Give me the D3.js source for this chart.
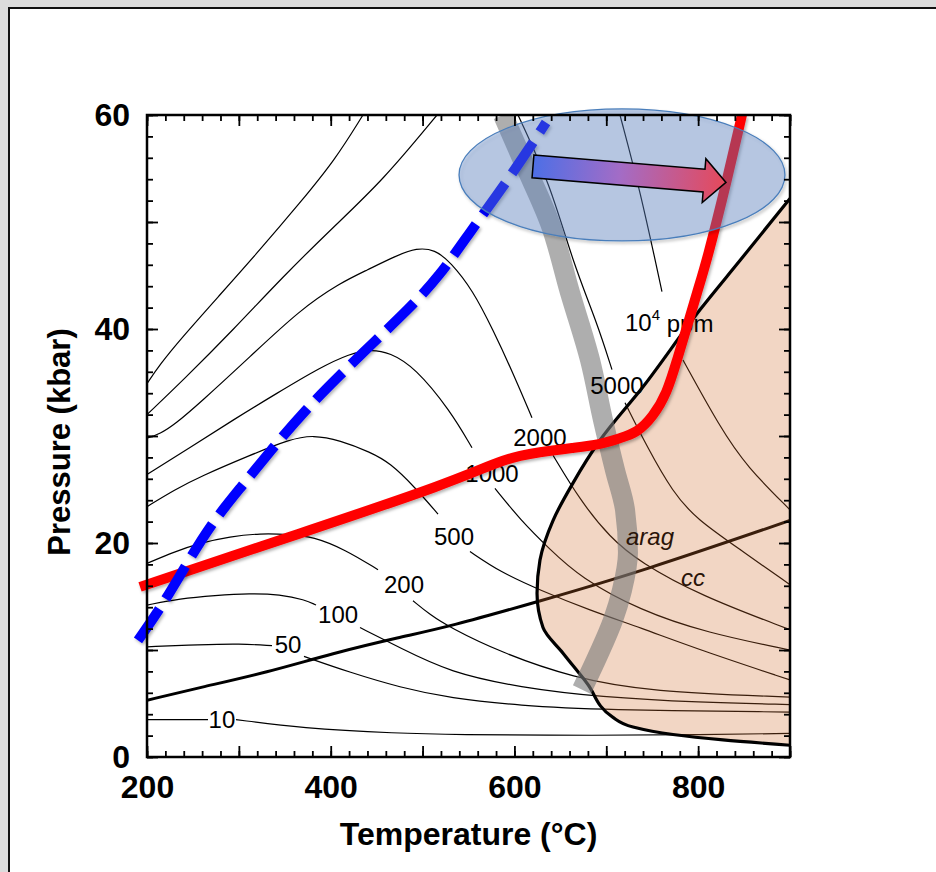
<!DOCTYPE html>
<html><head><meta charset="utf-8">
<script src="https://cdn.jsdelivr.net/npm/d3@7"></script>
<style>
html,body{margin:0;padding:0;background:#dcdcdc;}
svg{display:block;font-family:"Liberation Sans",Arial,sans-serif;}
</style></head><body>
<svg id="chart" width="936" height="872"></svg>
<script>
// ---- Axis definitions ----
const tempDomain = [200, 900];
const presDomain = [0, 60];
const tempTickLabels = [200, 400, 600, 800];
const presTickLabels = [0, 20, 40, 60];

// ---- Isopleths (T in °C, P in kbar); each is a list of drawn segments ----
const iso1e4 = [
  [[200,34.9],[214.2,36.7],[235.9,39.0],[279.5,43.2],[323.0,47.4],[366.6,51.8],[404.7,55.8],[435.1,60]],
  [[714.9,60],[736.7,53.0],[760.6,43.5]],
  [[783.5,37.1],[823.8,30.8],[853.2,27.1],[900,23.1]]
];
const iso5000 = [
  [[200,32.0],[239.2,35.2],[293.6,39.9],[348.1,44.9],[402.5,49.5],[456.9,53.9],[515.7,60]],
  [[603.9,60],[638.7,53.6],[663.7,46.2],[689.9,40.6],[706.2,36.2]],
  [[720.4,33.1],[744.3,29.0],[772.6,24.7],[798.7,22.2],[845.5,19.4],[900,16.1]]
];
const iso2000 = [
  [[200,29.8],[214.2,30.2],[230.5,31.1],[257.7,33.1],[312.1,37.4],[366.6,41.8],[410.1,44.3],[439.5,45.5],[470.0,46.8],[493.9,47.6],[513.5,47.4],[529.9,46.3],[554.9,43.6],[576.7,39.9],[598.4,35.9],[619.1,31.7]],
  [[642.0,28.2],[671.4,24.0],[704.0,20.5],[736.7,18.2],[802.0,15.1],[900,11.9]]
];
const iso1000 = [
  [[200,26.4],[246.8,28.9],[293.6,31.5],[341.5,34.0],[388.3,36.4],[421.0,37.7],[442.8,38.1],[464.5,37.8],[491.8,36.4],[529.9,32.4],[553.8,28.9]],
  [[578.8,25.1],[606.1,22.2],[638.7,19.4],[671.4,16.8],[736.7,13.7],[809.6,11.6],[900,10.0]]
];
const iso500 = [
  [[200,23.4],[230.5,25.0],[257.7,26.2],[312.1,28.2],[355.7,29.7],[380.7,30.1],[410.1,29.6],[442.8,28.5],[464.5,27.5],[491.8,25.2],[516.8,22.7]],
  [[551.6,19.2],[584.3,17.3],[627.8,15.6],[682.3,13.7],[736.7,12.1],[802.0,10.0],[900,7.2]]
];
const iso200 = [
  [[200,18.1],[230.5,19.2],[257.7,20.0],[290.4,20.6],[323.0,20.9],[355.7,20.8],[380.7,20.6],[415.6,19.4],[451.5,17.5]],
  [[489.6,14.6],[508.1,13.3],[529.9,12.1],[584.3,9.8],[663.7,7.4],[747.6,6.1],[900,5.6]]
];
const iso100 = [
  [[200,14.2],[235.9,14.8],[274.0,15.1],[312.1,15.3],[344.8,15.2],[372.0,14.7],[384.0,14.2]],
  [[431.9,12.1],[475.4,10.2],[529.9,7.9],[606.1,6.5],[693.1,5.6],[802.0,5.1],[900,4.9]]
];
const iso50 = [
  [[200,10.3],[257.7,10.5],[301.2,10.6],[336.1,10.4]],
  [[370.9,9.4],[421.0,7.9],[475.4,6.5],[529.9,5.5],[606.1,4.8],[693.1,4.4],[900,4.2]]
];
const iso10 = [
  [[200,3.5],[266.4,3.5]],
  [[296.9,3.5],[366.6,2.7],[475.4,2.2],[529.9,2.1],[693.1,2.0],[802.0,2.1],[900,2.2]]
];
const isopleths = [iso1e4, iso5000, iso2000, iso1000, iso500, iso200, iso100, iso50, iso10];

// Isopleth labels: text and [T, P] anchor
const isoLabels = [
  {text: "10",   at: [281.6, 3.5]},
  {text: "50",   at: [353.5, 10.5]},
  {text: "100",  at: [408.0, 13.3]},
  {text: "200",  at: [479.8, 16.1]},
  {text: "500",  at: [534.2, 20.6]},
  {text: "1000", at: [575.6, 26.5]},
  {text: "2000", at: [627.8, 29.9]},
  {text: "5000", at: [711.6, 34.7]}
];
const ppmLabelAt = [720.4, 40.6];

// Calcite / aragonite boundary
const ccArag = [[200,5.3],[257.7,6.5],[330.6,7.9],[402.5,9.7],[475.4,11.2],[529.9,12.2],[624.6,14.5],[736.7,17.3],[900,22.1]];
const phaseLabels = [{text: "arag", at: [747.6, 20.6]}, {text: "cc", at: [794.4, 16.8]}];

// Shaded field boundary (closed against the right edge)
const fieldEdge = [[900,52.2],[845.5,46.4],[802.0,41.8],[740.0,34.6],[693.1,29.6],[663.7,25.6],[642.0,22.1],[627.8,18.4],[624.6,15.3],[631.1,12.1],[652.9,9.7],[679.0,6.9],[707.3,3.7],[729.1,2.8],[772.6,2.1],[827.1,1.6],[900,1.1]];

// Grey band
const greyBand = [[587.5,60],[611.5,55.3],[638.7,49.9],[660.5,43.4],[682.3,37.1],[696.4,31.5],[709.5,26.8],[720.4,23.1],[723.6,19.1],[717.1,15.6],[707.3,12.8],[691.0,9.5],[673.5,6.3]];

// Red P-T path
const redPath = [[192.4,15.9],[366.6,20.9],[529.9,25.6],[591.9,28.0],[627.8,28.5],[663.7,28.9],[693.1,29.2],[714.9,29.8],[733.4,30.3],[750.8,31.8],[766.1,34.0],[777.0,37.1],[787.9,40.2],[798.7,43.4],[809.6,46.4],[831.4,53.9],[847.7,60.0]];

// Blue dashed P-T path
const bluePath = [[190.2,10.9],[216.3,14.1],[243.5,18.1],[270.8,21.9],[301.2,25.1],[336.1,28.8],[372.0,32.4],[410.1,35.7],[446.0,38.7],[484.1,41.8],[519.0,45.0],[549.4,48.8],[581.0,52.5],[609.3,56.0],[634.4,59.3]];

// Highlight ellipse: centre [T, P], half-axes [ΔT, ΔP]
const ellipseCentre = [717.1, 54.4];
const ellipseHalfAxes = [177.4, 6.17];
// Arrow from/to [T, P]
const arrowFrom = [620.2, 55.2];
const arrowTo = [830.3, 53.7];

// ---- Drawing ----
const W = 936, H = 872;
const svg = d3.select("#chart");

// page panel
svg.append("rect").attr("x", 9).attr("y", 8).attr("width", W).attr("height", H).attr("fill", "#fff");
svg.append("path").attr("d", "M9,872V8H936").attr("fill", "none").attr("stroke", "#111").attr("stroke-width", 2);

const x = d3.scaleLinear().domain(tempDomain).range([147, 790]);
const y = d3.scaleLinear().domain(presDomain).range([757, 115]);

const defs = svg.append("defs");
defs.append("clipPath").attr("id", "plotClip")
  .append("rect").attr("x", x(200)).attr("y", y(60)).attr("width", x(900) - x(200)).attr("height", y(0) - y(60));
const shadow = defs.append("filter").attr("id", "shadow").attr("x", "-20%").attr("y", "-20%").attr("width", "140%").attr("height", "140%");
shadow.append("feDropShadow").attr("dx", 1.5).attr("dy", 2).attr("stdDeviation", 1.8).attr("flood-color", "#000").attr("flood-opacity", 0.3);

// smoothed curves (B-spline through the read-off points), and a pressure-parameterised one
const lineS = d3.line().x(d => x(d[0])).y(d => y(d[1])).curve(d3.curveBasis);
const lineP = d3.line().x(d => x(d[0])).y(d => y(d[1])).curve(d3.curveMonotoneY);

const plot = svg.append("g").attr("clip-path", "url(#plotClip)");

// isopleths
isopleths.forEach(segs => segs.forEach(seg => {
  plot.append("path").attr("d", lineS(seg)).attr("fill", "none").attr("stroke", "#000").attr("stroke-width", 1.2);
}));

// isopleth labels
svg.append("g").selectAll("text").data(isoLabels).join("text")
  .attr("x", d => x(d.at[0])).attr("y", d => y(d.at[1]))
  .attr("dy", "0.36em").attr("text-anchor", "middle")
  .attr("font-size", 24).attr("fill", "#000").text(d => d.text);
const ppm = svg.append("text").attr("x", x(ppmLabelAt[0])).attr("y", y(ppmLabelAt[1])).attr("dy", "0.36em")
  .attr("font-size", 24).attr("fill", "#000");
ppm.append("tspan").text("10");
ppm.append("tspan").attr("font-size", 15).attr("dy", "-0.75em").text("4");
ppm.append("tspan").attr("dy", "0.5em").text("\u00a0ppm");

// calcite-aragonite boundary
plot.append("path").attr("d", lineS(ccArag)).attr("fill", "none").attr("stroke", "#000").attr("stroke-width", 3);

// shaded field
plot.append("path").attr("d", lineP(fieldEdge) + "Z").attr("fill", "rgb(208,108,44)").attr("fill-opacity", 0.28);
plot.append("path").attr("d", lineP(fieldEdge)).attr("fill", "none").attr("stroke", "#000").attr("stroke-width", 3.2);

// phase labels
svg.append("g").selectAll("text").data(phaseLabels).join("text")
  .attr("x", d => x(d.at[0])).attr("y", d => y(d.at[1])).attr("dy", "0.36em").attr("text-anchor", "middle")
  .attr("font-size", 24).attr("font-style", "italic").attr("fill", "#2a1408").text(d => d.text);

// grey band
plot.append("path").attr("d", lineP(greyBand)).attr("fill", "none").attr("stroke", "rgb(120,120,120)")
  .attr("stroke-opacity", 0.6).attr("stroke-width", 20);

// red path
svg.append("path").attr("d", lineS(redPath)).attr("fill", "none").attr("stroke", "#ff0000")
  .attr("stroke-width", 10).attr("filter", "url(#shadow)");

// blue dashed path
svg.append("path").attr("d", lineS(bluePath)).attr("fill", "none").attr("stroke", "#0000ff")
  .attr("stroke-width", 10).attr("stroke-dasharray", "38,12").attr("filter", "url(#shadow)");

// highlight ellipse
const ecx = x(ellipseCentre[0]), ecy = y(ellipseCentre[1]);
const erx = x(ellipseCentre[0] + ellipseHalfAxes[0]) - ecx;
const ery = y(ellipseCentre[1] - ellipseHalfAxes[1]) - ecy;
svg.append("ellipse").attr("cx", ecx).attr("cy", ecy).attr("rx", erx).attr("ry", ery)
  .attr("fill", "rgb(95,135,200)").attr("fill-opacity", 0.37)
  .attr("stroke", "#4a7ebb").attr("stroke-width", 1.3).attr("filter", "url(#shadow)");

// block arrow (drawn in its own rotated frame, gradient along its length)
{
  const x0 = x(arrowFrom[0]), y0 = y(arrowFrom[1]), x1 = x(arrowTo[0]), y1 = y(arrowTo[1]);
  const len = Math.hypot(x1 - x0, y1 - y0);
  const ang = Math.atan2(y1 - y0, x1 - x0) * 180 / Math.PI;
  const grad = defs.append("linearGradient").attr("id", "arrowGrad").attr("gradientUnits", "userSpaceOnUse")
    .attr("x1", 0).attr("y1", 0).attr("x2", len).attr("y2", 0);
  grad.append("stop").attr("offset", "0%").attr("stop-color", "#4d6fe6");
  grad.append("stop").attr("offset", "45%").attr("stop-color", "#a36cc6");
  grad.append("stop").attr("offset", "100%").attr("stop-color", "#e6495a");
  const hw = 11.5, hh = 22, hl = 22;
  const pts = [[0, -hw], [len - hl, -hw], [len - hl, -hh], [len, 0], [len - hl, hh], [len - hl, hw], [0, hw]];
  svg.append("path").attr("transform", `translate(${x0},${y0}) rotate(${ang})`)
    .attr("d", "M" + pts.map(p => p.join(",")).join("L") + "Z")
    .attr("fill", "url(#arrowGrad)").attr("stroke", "#000").attr("stroke-width", 1.5).attr("stroke-linejoin", "miter");
}

// ---- Axes ----
const axes = svg.append("g");
function tickAxis(axis, tx, ty) {
  const g = axes.append("g").attr("transform", `translate(${tx},${ty})`).call(axis);
  g.select(".domain").remove();
  g.selectAll("line").attr("stroke", "#000").attr("stroke-width", 1.8);
  return g;
}
const tMinor = d3.range(200, 901, 20), tMajor = d3.range(200, 901, 100);
const pMinor = d3.range(0, 61, 2), pMajor = d3.range(0, 61, 10);
tickAxis(d3.axisBottom(x).tickValues(tMinor).tickSize(-6).tickFormat(""), 0, y(0));
tickAxis(d3.axisBottom(x).tickValues(tMajor).tickSize(-11).tickFormat(""), 0, y(0));
tickAxis(d3.axisTop(x).tickValues(tMinor).tickSize(-6).tickFormat(""), 0, y(60));
tickAxis(d3.axisTop(x).tickValues(tMajor).tickSize(-11).tickFormat(""), 0, y(60));
tickAxis(d3.axisLeft(y).tickValues(pMinor).tickSize(-6).tickFormat(""), x(200), 0);
tickAxis(d3.axisLeft(y).tickValues(pMajor).tickSize(-11).tickFormat(""), x(200), 0);
tickAxis(d3.axisRight(y).tickValues(pMinor).tickSize(-6).tickFormat(""), x(900), 0);
tickAxis(d3.axisRight(y).tickValues(pMajor).tickSize(-11).tickFormat(""), x(900), 0);

const xl = tickAxis(d3.axisBottom(x).tickValues(tempTickLabels).tickSize(0).tickPadding(18), 0, y(0));
xl.selectAll("text").attr("font-size", 32).attr("font-weight", "bold").attr("fill", "#000")
  .attr("font-family", "'Liberation Sans', Arial, sans-serif");
const yl = tickAxis(d3.axisLeft(y).tickValues(presTickLabels).tickSize(0).tickPadding(17), x(200), 0);
yl.selectAll("text").attr("font-size", 32).attr("font-weight", "bold").attr("fill", "#000")
  .attr("font-family", "'Liberation Sans', Arial, sans-serif");

axes.append("rect").attr("x", x(200)).attr("y", y(60)).attr("width", x(900) - x(200)).attr("height", y(0) - y(60))
  .attr("fill", "none").attr("stroke", "#000").attr("stroke-width", 2.5);

svg.append("text").attr("x", (x(200) + x(900)) / 2).attr("y", 845).attr("text-anchor", "middle")
  .attr("font-size", 32).attr("font-weight", "bold").text("Temperature (\u00b0C)");
svg.append("text").attr("transform", `translate(70,${(y(0) + y(60)) / 2 + 6}) rotate(-90)`).attr("text-anchor", "middle")
  .attr("font-size", 31).attr("font-weight", "bold").text("Pressure (kbar)");
</script>
</body></html>
